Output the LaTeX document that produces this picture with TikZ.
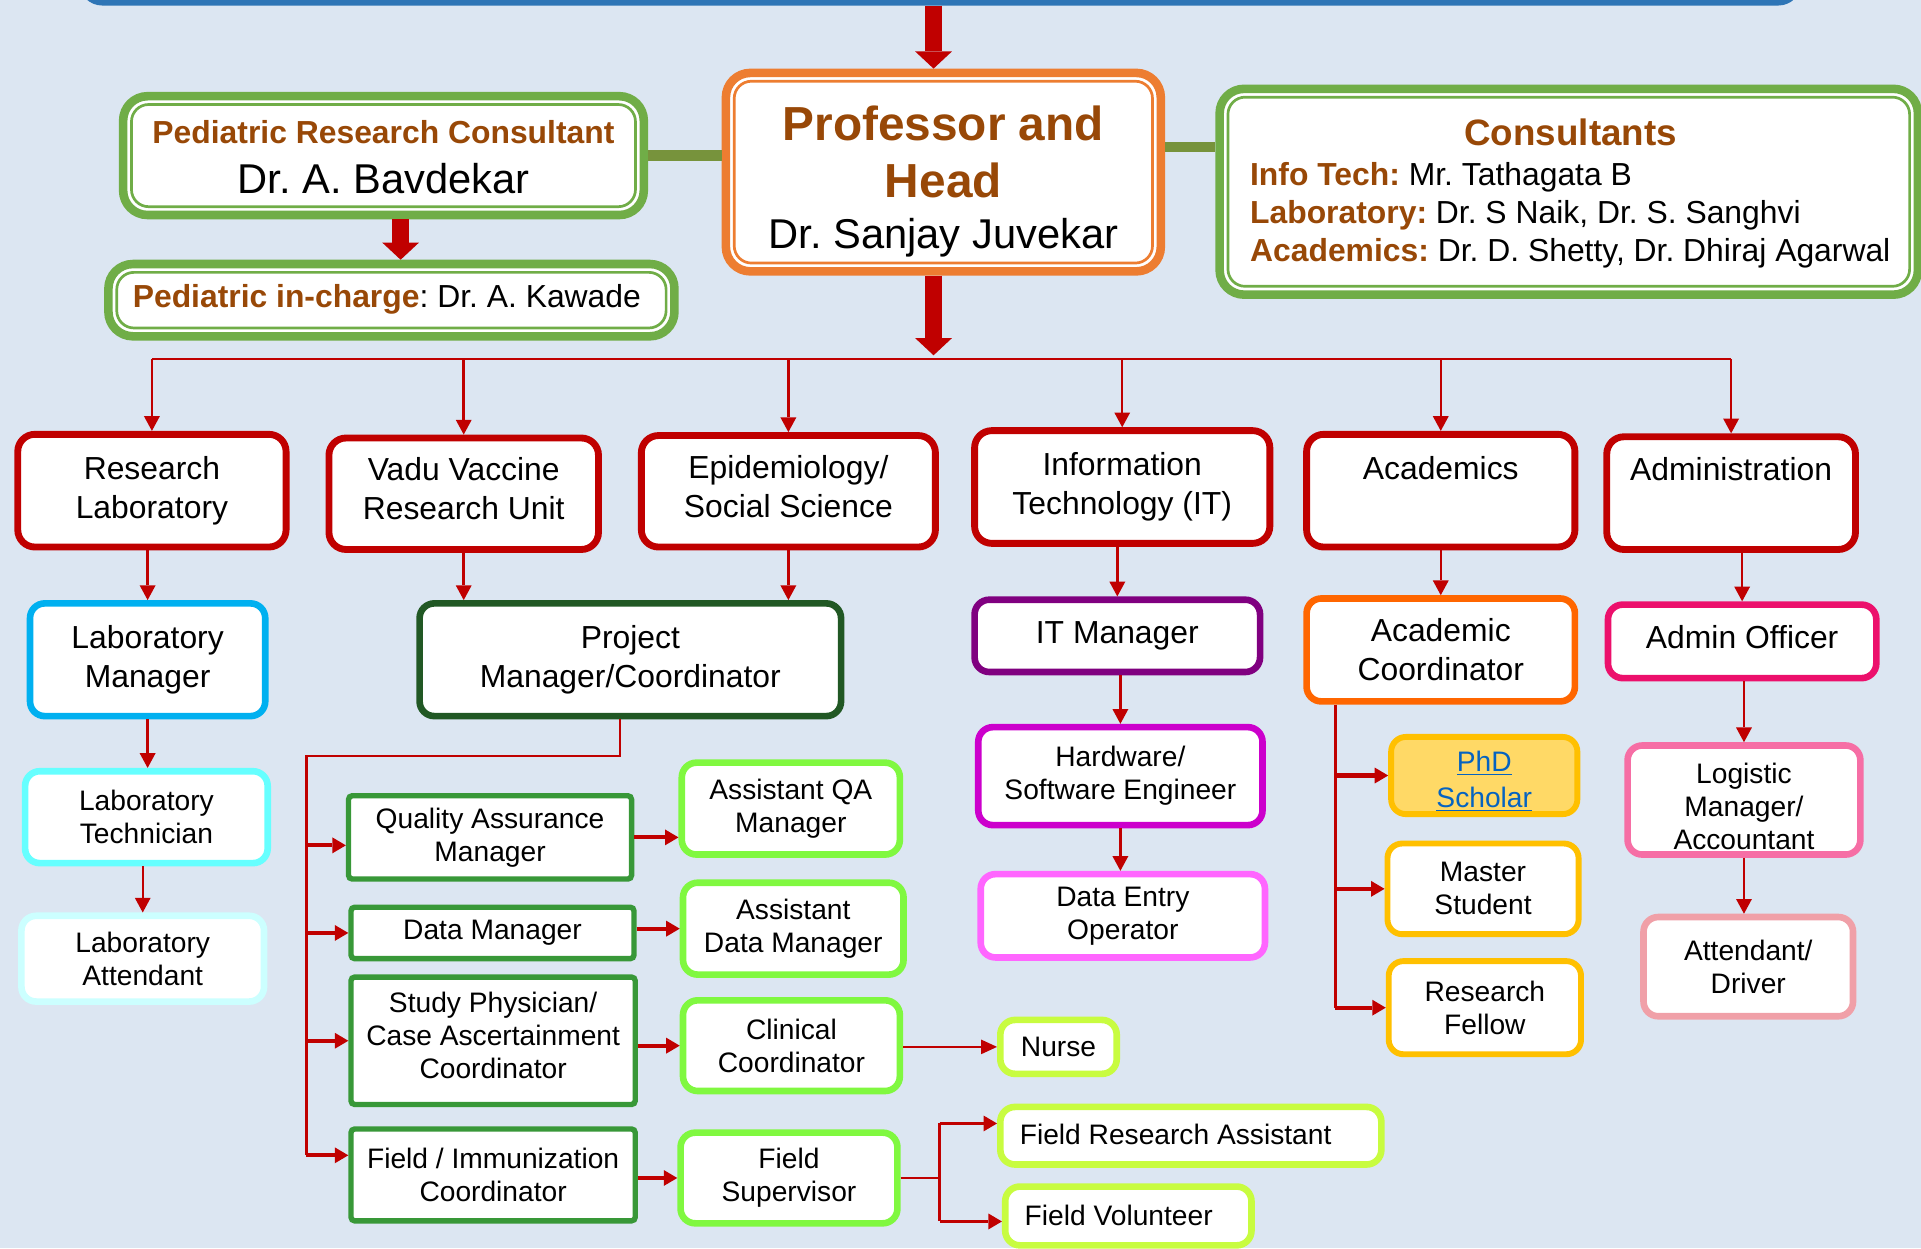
\documentclass[tikz,border=0pt]{standalone}
\usepackage{fontspec}
\setmainfont{Liberation Sans}
\usetikzlibrary{arrows.meta,calc}
\frenchspacing

\definecolor{bgblue}{RGB}{220,230,242}
\definecolor{darkred}{RGB}{192,0,0}
\definecolor{brownt}{RGB}{152,72,7}
\definecolor{profor}{RGB}{237,125,49}
\definecolor{leafgr}{RGB}{112,173,71}
\definecolor{olivec}{RGB}{119,147,60}
\definecolor{topblue}{RGB}{46,117,182}
\definecolor{labcyan}{RGB}{0,176,240}
\definecolor{pmgreen}{RGB}{33,88,36}
\definecolor{qagreen}{RGB}{56,152,56}
\definecolor{limegr}{RGB}{128,248,64}
\definecolor{yellowgr}{RGB}{200,252,64}
\definecolor{itpurple}{RGB}{128,0,128}
\definecolor{hwmag}{RGB}{204,0,204}
\definecolor{depink}{RGB}{255,102,255}
\definecolor{acorange}{RGB}{255,102,0}
\definecolor{amber}{RGB}{255,192,0}
\definecolor{phdfill}{RGB}{255,217,102}
\definecolor{linkblue}{RGB}{5,99,193}
\definecolor{aopink}{RGB}{236,16,108}
\definecolor{lgpink}{RGB}{246,110,165}
\definecolor{adpink}{RGB}{240,160,168}
\definecolor{ltcyan}{RGB}{102,255,255}
\definecolor{lacyan}{RGB}{204,255,255}

\begin{document}
\begin{tikzpicture}[
  x=0.5pt, y=-0.5pt,
  sz/.style 2 args={minimum width={(#1-5)*0.5pt}, minimum height={(#2-5)*0.5pt}},
  big/.style={font=\fontsize{13}{16}\selectfont},
  sm/.style={font=\fontsize{11.5}{13.5}\selectfont},
  box/.style={draw=#1, fill=white, line width=2.7pt, rounded corners=6pt,
    align=center, inner sep=1pt, big},
  dept/.style={box=darkred, line width=2.8pt, rounded corners=7pt},
  sq/.style={box=qagreen, line width=2.2pt, rounded corners=1.5pt, sm},
  dbl/.style={draw=#1, fill=white, line width=3.5pt, rounded corners=10pt,
    path picture={\draw[#1, line width=1.1pt, rounded corners=7pt]
      ([shift={(3.4pt,3.4pt)}]path picture bounding box.south west) rectangle
      ([shift={(-3.4pt,-3.4pt)}]path picture bounding box.north east);}},
  lbl/.style={inner sep=0pt, align=center},
  wire/.style={draw=darkred, line width=1.1pt},
  drop/.style={wire, line width=1pt, -{Triangle[width=6.5pt,length=6pt,line width=0pt]}},
  side/.style={wire, line width=1.7pt, -{Triangle[width=6.5pt,length=5.5pt,line width=0pt]}},
  thinarrow/.style={wire, line width=0.9pt, -{Triangle[width=6pt,length=6.5pt,line width=0pt]}},
  bigarrow/.style={draw=darkred, line width=7pt, -{Triangle[width=15pt,length=7pt,line width=0pt]}},
  olivebar/.style={draw=olivec, line width=4.3pt},
]
\useasboundingbox (0,0) rectangle (1568,1019);
\fill[bgblue] (0,0) rectangle (1568,1019);

% top frame
\node[draw=topblue, line width=3pt, rounded corners=8pt, sz={1405}{52}] (top) at (767.5,-22) {};

% head and consultants
\node[dbl=profor, sz={360}{167}] (prof) at (770,140.5) {};
\node[lbl, text=brownt, font=\fontsize{19.5}{23}\selectfont\bfseries] (prof-title) at (770,124) {Professor and\\Head};
\node[lbl, font=\fontsize{17}{20}\selectfont] (prof-name) at (770,194) {Dr. Sanjay Juvekar};

\node[dbl=leafgr, sz={430}{102}] (prc) at (313,127) {};
\node[lbl, text=brownt, font=\fontsize{13}{16}\selectfont\bfseries] (prc-role) at (313,108) {Pediatric Research Consultant};
\node[lbl, font=\fontsize{17}{20}\selectfont] (prc-name) at (313,146) {Dr. A. Bavdekar};

\node[dbl=leafgr, sz={467}{64}] (pic) at (319.5,245) {};
\node[lbl, anchor=west, big] (pic-text) at (108,244) {\textcolor{brownt}{\bfseries Pediatric in-charge}: Dr. A. Kawade};

\node[dbl=leafgr, sz={575}{173}] (cons) at (1280.5,156.5) {};
\node[lbl, text=brownt, font=\fontsize{15}{18}\selectfont\bfseries] (cons-title) at (1282,108) {Consultants};
\node[lbl, align=left, anchor=west, font=\fontsize{13}{15.5}\selectfont] (cons-list) at (1020,175.5)
  {\textcolor{brownt}{\bfseries Info Tech:} Mr. Tathagata B\\
   \textcolor{brownt}{\bfseries Laboratory:} Dr. S Naik, Dr. S. Sanghvi\\
   \textcolor{brownt}{\bfseries Academics:} Dr. D. Shetty, Dr. Dhiraj Agarwal};

% departments
\node[dept, sz={224}{97}] (rl) at (124,400.5) {Research\\Laboratory};
\node[dept, sz={225}{96}] (vv) at (378.5,403) {};
\node[lbl, big] (vv-t) at (378.5,399) {Vadu Vaccine\\Research Unit};
\node[dept, sz={245}{96}] (epi) at (643.5,401) {};
\node[lbl, big] (epi-t) at (643.5,397.5) {Epidemiology/\\Social Science};
\node[dept, sz={246}{97}] (it) at (916,397.5) {Information\\Technology (IT)};
\node[dept, sz={224}{97}] (acad) at (1176,400.5) {};
\node[lbl, big] (acad-t) at (1176,382) {Academics};
\node[dept, sz={208}{97}] (adm) at (1413,402.5) {};
\node[lbl, big] (adm-t) at (1413,383) {Administration};

% second level
\node[box=labcyan, sz={197}{97}] (lm) at (120.5,538.5) {Laboratory\\Manager};
\node[box=pmgreen, sz={349}{97}] (pm) at (514.5,538.5) {Project\\Manager/Coordinator};
\node[box=itpurple, sz={238}{64}] (itm) at (912,519) {IT Manager};
\node[box=acorange, sz={224}{89}] (ac) at (1176,530.5) {Academic\\Coordinator};
\node[box=aopink, sz={224}{65}] (ao) at (1422,523.5) {};
\node[lbl, big] (ao-t) at (1422,520) {Admin Officer};

% laboratory staff
\node[box=ltcyan, sm, sz={203}{80}] (lt) at (119.5,667) {Laboratory\\Technician};
\node[box=lacyan, sm, sz={203}{75}] (la) at (116.5,782.5) {Laboratory\\Attendant};

% project staff
\node[sq, sz={236}{73}] (qa) at (400,683.5) {Quality Assurance\\Manager};
\node[sq, sz={236}{47}] (dm) at (402,761.5) {Data Manager};
\node[sq, sz={237}{109}] (sp) at (402.5,849.5) {};
\node[lbl, sm] (sp-t) at (402.5,845) {Study Physician/\\Case Ascertainment\\Coordinator};
\node[sq, sz={237}{80}] (fi) at (402.5,959) {Field / Immunization\\Coordinator};

\node[box=limegr, sm, sz={183}{80}] (aqa) at (645.5,660) {Assistant QA\\Manager};
\node[box=limegr, sm, sz={185}{80}] (adm-asst) at (647.5,758) {Assistant\\Data Manager};
\node[box=limegr, sm, sz={182}{79}] (cc) at (646,853.5) {Clinical\\Coordinator};
\node[box=limegr, sm, sz={182}{79}] (fs) at (644,961.5) {Field\\Supervisor};

\node[box=yellowgr, sm, sz={100}{49}] (nurse) at (864,854.5) {Nurse};
\node[box=yellowgr, sz={316}{52}] (fra) at (972,927) {};
\node[lbl, sm, anchor=west] (fra-t) at (832,926) {Field Research Assistant};
\node[box=yellowgr, sz={206}{53}] (fv) at (921,992.5) {};
\node[lbl, sm, anchor=west] (fv-t) at (836,992) {Field Volunteer};

% IT staff
\node[box=hwmag, sm, sz={237}{85}] (hw) at (914.5,633.5) {Hardware/\\Software Engineer};
\node[box=depink, sm, sz={237}{73}] (de) at (916.5,747.5) {Data Entry\\Operator};

% academic staff
\node[box=amber, fill=phdfill, sm, line width=2.4pt, sz={157}{68}] (phd) at (1211.5,633) {};
\node[lbl, sm, text=linkblue] (phd-t) at (1211.5,638) {\underline{PhD}\\[1pt]\underline{Scholar}};
\node[box=amber, sm, line width=2.4pt, sz={161}{79}] (ms) at (1210.5,725.5) {Master\\Student};
\node[box=amber, sm, line width=2.4pt, sz={162}{81}] (rf) at (1212,822.5) {Research\\Fellow};

% administration staff
\node[box=lgpink, sm, sz={195}{94}] (lg) at (1423.5,653) {};
\node[lbl, sm] (lg-t) at (1423.5,658) {Logistic\\Manager/\\Accountant};
\node[box=adpink, sm, sz={176}{86}] (ad) at (1427,789) {Attendant/\\Driver};

% ---- connectors ----
\coordinate (hx) at (762,290);
\coordinate (bus) at (0,293);
\coordinate (px) at (327,0);
\coordinate (oy) at (0,120);

\draw[bigarrow] (top.south -| hx) -- (prof.north -| hx);
\draw[bigarrow] (prof.south -| hx) -- (hx);
\draw[bigarrow] (prc.south -| px) -- (pic.north -| px);
\draw[olivebar] (prc.east) -- (prc.east -| prof.west);
\draw[olivebar] (prof.east |- oy) -- (cons.west |- oy);

\draw[wire, line width=1pt] (rl.north |- bus) -- (adm.north |- bus);
\foreach \d in {rl,vv,epi,it,acad,adm}
  \draw[drop] (\d.north |- bus) -- (\d.north);

\draw[drop] (rl.south -| lm.north) -- (lm.north);
\draw[drop] (vv.south) -- (vv.south |- pm.north);
\draw[drop] (epi.south) -- (epi.south |- pm.north);
\draw[drop] (it.south -| itm.north) -- (itm.north);
\draw[drop] (acad.south) -- (ac.north);
\draw[drop] (ao.north |- adm.south) -- (ao.north);
\draw[drop] (lm.south) -- (lm.south |- lt.north);
\draw[drop] (lt.south -| la.north) -- (la.north);
\draw[drop] (itm.south -| hw.north) -- (hw.north);
\draw[drop] (hw.south) -- (hw.south |- de.north);
\draw[drop] (ao.south -| lg.north) -- (lg.north);
\draw[drop] (lg.south) -- (lg.south |- ad.north);

% project manager branch
\coordinate (pmx) at (506,0);
\coordinate (pmj) at (250,617);
\coordinate (qain) at ($(qa.west)+(0,6.5)$);
\coordinate (fiin) at ($(fi.west)+(0,-16)$);
\draw[wire] (pm.south -| pmx) |- (pmj) -- (pmj |- fiin);
\draw[side] (pmj |- qain) -- (qain);
\draw[side] (pmj |- dm.west) -- (dm.west);
\draw[side] (pmj |- sp.west) -- (sp.west);
\draw[side] (pmj |- fiin) -- (fiin);

\draw[side] (qa.east) -- (qa.east -| aqa.west);
\draw[side] (dm.east |- adm-asst.west) -- (adm-asst.west);
\draw[side] (sp.east |- cc.west) -- (cc.west);
\draw[side] (fi.east |- fs.west) -- (fs.west);
\draw[thinarrow] (cc.east |- nurse.west) -- (nurse.west);

% field supervisor branch
\coordinate (fsx) at (767,0);
\coordinate (frain) at ($(fra.west)+(0,-10)$);
\coordinate (fvin) at ($(fv.west)+(0,4.5)$);
\draw[wire, line width=0.8pt] (fs.east) -- (fs.east -| fsx);
\draw[wire] (fsx |- frain) -- (fsx |- fvin);
\draw[side, line width=1.3pt] (fsx |- frain) -- (frain);
\draw[side, line width=1.3pt] (fsx |- fvin) -- (fvin);

% academic coordinator branch
\coordinate (acx) at (1090,0);
\draw[wire] (ac.south -| acx) -- (rf.west -| acx);
\foreach \n in {phd,ms,rf}
  \draw[side] (acx |- \n.west) -- (\n.west);
\end{tikzpicture}
\end{document}
